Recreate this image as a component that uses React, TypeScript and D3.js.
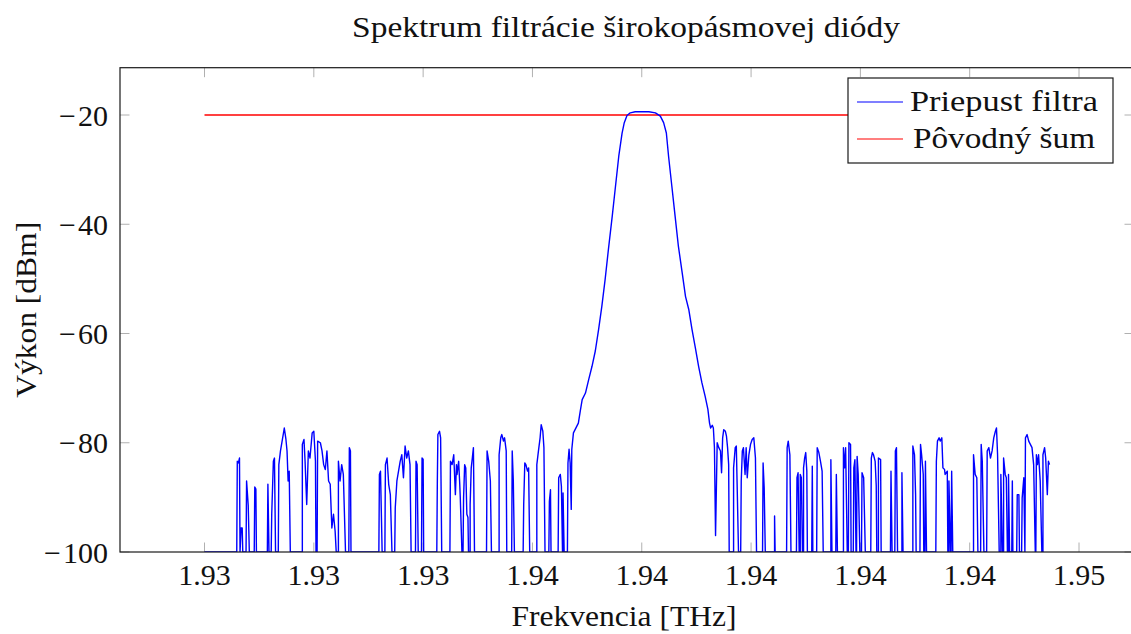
import React from "react";
import * as d3 from "d3";

// ---- data (frequency in THz as shown on the axis, power in dBm) ----
const freqTHz: number[] = [
  1.93000, 1.93059,
  1.93060, 1.93062, 1.93064, 1.93065, 1.93067, 1.93069, 1.93070,
  1.93076, 1.93077, 1.93080, 1.93082,
  1.93091, 1.93092, 1.93094, 1.93095,
  1.93115, 1.93116, 1.93118, 1.93122, 1.93123, 1.93126, 1.93128, 1.93130,
  1.93135, 1.93136, 1.93139, 1.93142, 1.93145, 1.93146, 1.93149, 1.93151, 1.93153, 1.93155, 1.93157,
  1.93179, 1.93179, 1.93182, 1.93184, 1.93187, 1.93190, 1.93193, 1.93197, 1.93200, 1.93203, 1.93204,
  1.93206, 1.93207, 1.93212, 1.93215, 1.93218, 1.93221, 1.93224, 1.93227, 1.93230, 1.93233, 1.93236, 1.93239, 1.93241,
  1.93245, 1.93245, 1.93248, 1.93251, 1.93254, 1.93258,
  1.93264, 1.93265, 1.93267, 1.93268,
  1.93319, 1.93320, 1.93322, 1.93325,
  1.93330, 1.93331, 1.93334, 1.93337, 1.93340, 1.93343,
  1.93348, 1.93349, 1.93352, 1.93355, 1.93358, 1.93361, 1.93364, 1.93367, 1.93370, 1.93373, 1.93376, 1.93378,
  1.93386, 1.93387, 1.93389, 1.93391,
  1.93397, 1.93398, 1.93400, 1.93401,
  1.93425, 1.93426, 1.93427, 1.93430, 1.93432, 1.93434,
  1.93449, 1.93450, 1.93453, 1.93456, 1.93459, 1.93461, 1.93462, 1.93465, 1.93467, 1.93468, 1.93471,
  1.93473, 1.93474, 1.93476, 1.93478, 1.93480, 1.93482, 1.93483,
  1.93486, 1.93486, 1.93488, 1.93490, 1.93492, 1.93494,
  1.93516, 1.93517, 1.93520, 1.93523, 1.93525,
  1.93539, 1.93539, 1.93542, 1.93544, 1.93547, 1.93549, 1.93552, 1.93553,
  1.93562, 1.93563, 1.93565, 1.93567,
  1.93583, 1.93584, 1.93586, 1.93588, 1.93591, 1.93593, 1.93595,
  1.93608, 1.93608, 1.93611, 1.93614, 1.93616, 1.93619, 1.93621, 1.93623,
  1.93630, 1.93631, 1.93633, 1.93634,
  1.93647, 1.93648, 1.93651, 1.93653, 1.93655, 1.93656, 1.93656, 1.93658,
  1.93664, 1.93665, 1.93667, 1.93669, 1.93671, 1.93672, 1.93675, 1.93678, 1.93681, 1.93684,
  1.93688, 1.93691, 1.93697, 1.93703, 1.93709, 1.93715, 1.93721, 1.93727, 1.93733, 1.93739,
  1.93746, 1.93752, 1.93758, 1.93764, 1.93768, 1.93773, 1.93779, 1.93788, 1.93800, 1.93813,
  1.93825, 1.93834, 1.93840, 1.93845, 1.93849, 1.93855, 1.93861, 1.93867, 1.93874, 1.93880,
  1.93886, 1.93892, 1.93898, 1.93904, 1.93910, 1.93916, 1.93921, 1.93924, 1.93926, 1.93929,
  1.93931, 1.93933, 1.93935, 1.93938, 1.93941, 1.93944, 1.93946, 1.93948, 1.93950, 1.93953,
  1.93955, 1.93957, 1.93959, 1.93960,
  1.93968, 1.93968, 1.93971, 1.93973, 1.93975, 1.93977,
  1.93981, 1.93982, 1.93984, 1.93986, 1.93989, 1.93991, 1.93993, 1.93996, 1.93999, 1.94002, 1.94005, 1.94008, 1.94010,
  1.94021, 1.94022, 1.94024, 1.94026,
  1.94043, 1.94043, 1.94044,
  1.94065, 1.94066, 1.94068, 1.94071, 1.94073,
  1.94083, 1.94084, 1.94086, 1.94088, 1.94090, 1.94090, 1.94092, 1.94094, 1.94096, 1.94096, 1.94098, 1.94100, 1.94102, 1.94103,
  1.94111, 1.94112, 1.94113,
  1.94120, 1.94121, 1.94124, 1.94127, 1.94130, 1.94132,
  1.94146, 1.94146, 1.94148,
  1.94155, 1.94156, 1.94158,
  1.94169, 1.94169, 1.94171, 1.94173, 1.94176, 1.94178, 1.94179, 1.94182, 1.94183,
  1.94187, 1.94188, 1.94190, 1.94192, 1.94193, 1.94194, 1.94196, 1.94199,
  1.94202, 1.94203, 1.94206, 1.94209,
  1.94219, 1.94220, 1.94222, 1.94224, 1.94227, 1.94229, 1.94230, 1.94233, 1.94233, 1.94237, 1.94238,
  1.94255, 1.94256, 1.94258, 1.94263, 1.94264, 1.94266, 1.94268,
  1.94276, 1.94276, 1.94278,
  1.94296, 1.94296, 1.94299, 1.94301, 1.94302,
  1.94309, 1.94310, 1.94312, 1.94315, 1.94316, 1.94318, 1.94319, 1.94321,
  1.94338, 1.94339, 1.94341, 1.94344, 1.94346, 1.94349, 1.94351, 1.94354, 1.94355, 1.94359, 1.94360,
  1.94362, 1.94362, 1.94365, 1.94366, 1.94367, 1.94369,
  1.94407, 1.94407, 1.94410, 1.94413, 1.94415, 1.94420, 1.94421, 1.94423, 1.94426,
  1.94431, 1.94432, 1.94435, 1.94438, 1.94441, 1.94444, 1.94447, 1.94449, 1.94451, 1.94454,
  1.94457, 1.94457, 1.94460, 1.94462, 1.94462, 1.94465, 1.94467, 1.94469, 1.94471, 1.94471, 1.94473, 1.94477, 1.94478, 1.94479,
  1.94486, 1.94487, 1.94490, 1.94491, 1.94495, 1.94496, 1.94499, 1.94501,
  1.94501, 1.94502, 1.94505, 1.94508, 1.94511, 1.94514, 1.94517, 1.94520,
  1.94521, 1.94522, 1.94524, 1.94526, 1.94529, 1.94532,
  1.94534, 1.94534, 1.94537, 1.94539, 1.94542, 1.94544, 1.94546,
];

const powerDbm: number[] = [
  -100, -100,
  -83.4, -83.7, -82.8, -100, -95.6, -95.6, -100,
  -100, -87.0, -91.5, -100,
  -100, -88.1, -88.5, -100,
  -100, -87.6, -100, -100, -93.1, -83.4, -82.8, -100,
  -100, -84.0, -81.5, -79.7, -77.9, -77.3, -79.4, -81.5, -87.0, -85.2, -100,
  -100, -80.3, -79.4, -83.4, -91.3, -81.5, -82.8, -78.2, -77.9, -83.4, -100,
  -100, -79.7, -80.0, -81.5, -84.0, -84.9, -81.5, -87.0, -87.6, -95.6, -93.1, -96.2, -100,
  -100, -83.4, -87.0, -84.0, -85.8, -100,
  -100, -80.9, -81.5, -100,
  -100, -85.8, -85.2, -100,
  -100, -84.0, -82.8, -87.6, -89.5, -100,
  -100, -91.9, -87.0, -85.2, -83.4, -82.2, -86.4, -80.6, -82.8, -81.5, -84.0, -100,
  -100, -83.4, -84.0, -100,
  -100, -82.8, -83.0, -100,
  -100, -87.0, -78.5, -77.9, -79.1, -100,
  -100, -83.4, -84.0, -82.2, -89.5, -84.0, -85.8, -83.4, -87.6, -90.1, -100,
  -100, -90.1, -84.0, -84.6, -93.1, -93.7, -100,
  -100, -91.3, -84.6, -82.8, -80.9, -100,
  -100, -81.5, -83.4, -87.0, -100,
  -100, -82.2, -79.1, -78.5, -79.7, -79.1, -81.5, -100,
  -100, -81.5, -87.0, -100,
  -100, -91.3, -83.7, -84.0, -85.2, -84.6, -100,
  -100, -84.0, -81.5, -79.1, -76.7, -77.9, -80.9, -100,
  -100, -90.7, -88.6, -100,
  -100, -86.4, -85.8, -88.0, -100, -100, -89.2, -100,
  -100, -83.7, -81.2, -83.7, -92.2, -81.2, -78.2, -77.6, -77.0, -76.4,
  -73.9, -72.1, -70.9, -68.4, -66.0, -63.2, -59.3, -55.0, -50.1, -44.6,
  -38.5, -33.0, -27.5, -23.3, -21.4, -20.1, -19.6, -19.4, -19.4, -19.4,
  -19.6, -20.2, -21.4, -23.3, -27.5, -33.0, -38.5, -44.0, -48.9, -53.2,
  -55.6, -59.3, -62.6, -66.0, -69.0, -71.5, -73.9, -76.4, -77.3, -76.8,
  -77.3, -80.9, -97.0, -80.0, -80.9, -81.5, -85.5, -79.1, -77.6, -77.9,
  -78.8, -80.9, -84.0, -100,
  -100, -84.6, -80.9, -80.6, -90.1, -100,
  -100, -87.0, -81.5, -80.9, -85.8, -80.9, -86.4, -82.2, -80.3, -79.4, -79.1, -82.8, -100,
  -100, -83.7, -88.3, -100,
  -100, -93.4, -100,
  -100, -80.9, -79.7, -82.2, -100,
  -100, -86.4, -85.5, -100, -100, -85.8, -86.4, -100, -100, -84.6, -82.8, -81.8, -85.2, -100,
  -100, -84.3, -100,
  -100, -80.9, -81.8, -83.4, -85.2, -100,
  -100, -83.1, -100,
  -100, -85.8, -100,
  -100, -80.9, -84.6, -80.9, -100, -100, -80.0, -80.3, -100,
  -100, -84.6, -83.1, -100, -100, -82.5, -85.8, -100,
  -100, -85.5, -86.4, -100,
  -100, -82.8, -81.8, -82.2, -83.4, -87.9, -100, -100, -82.8, -83.1, -100,
  -100, -85.2, -100, -100, -81.5, -80.9, -100,
  -100, -85.5, -100,
  -100, -80.6, -82.2, -89.5, -100,
  -100, -80.3, -82.2, -85.8, -100, -100, -83.4, -100,
  -100, -83.4, -79.7, -79.1, -79.7, -79.1, -84.6, -84.9, -85.8, -85.2, -100,
  -100, -87.0, -100, -100, -85.2, -100,
  -100, -82.2, -85.8, -86.4, -100, -100, -80.3, -83.4, -100,
  -100, -81.5, -80.9, -82.8, -81.5, -79.1, -77.9, -77.3, -82.2, -100,
  -100, -85.8, -100, -100, -82.8, -85.8, -86.4, -100, -100, -85.8, -100, -100, -87.0, -100,
  -100, -89.5, -89.5, -100, -100, -90.1, -86.4, -100,
  -100, -79.1, -78.5, -79.7, -80.3, -80.9, -84.0, -100,
  -100, -82.2, -84.0, -82.2, -87.0, -100,
  -100, -82.2, -80.9, -82.8, -89.5, -83.4, -84.0,
];

const noiseFreqTHz: number[] = [1.93, 1.94546];
const noisePowerDbm: number[] = [-20, -20];

const xTickValues: number[] = [1.930, 1.932, 1.934, 1.936, 1.938, 1.940, 1.942, 1.944, 1.946];
const xTickLabels: string[] = ["1.93", "1.93", "1.93", "1.94", "1.94", "1.94", "1.94", "1.94", "1.95"];
const yTickValues: number[] = [-100, -80, -60, -40, -20];
const yTickLabels: string[] = ["100", "80", "60", "40", "20"]; // shown with a leading minus sign

const seriesNames: string[] = ["Priepust filtra", "Pôvodný šum"];
const seriesColors: string[] = ["#0000ff", "#ff0000"];

const TITLE = "Spektrum filtrácie širokopásmovej diódy";
const X_LABEL = "Frekvencia [THz]";
const Y_LABEL = "Výkon [dBm]";

const W = 1131;
const H = 634;
const PL = 120;
const PR = 1134;
const PT = 67.7;
const PB = 552.0;
const FONT = "'Liberation Serif', 'DejaVu Serif', serif";
const FS = 30;
const TICK = 9.5;

export default function App() {
  const n = Math.min(freqTHz.length, powerDbm.length);
  const blue = d3.range(n).map((i) => ({ f: freqTHz[i], p: powerDbm[i] }));
  const red = noiseFreqTHz.map((f, i) => ({ f, p: noisePowerDbm[i] }));

  const [fMin, fMax] = d3.extent(freqTHz) as [number, number];
  const fr = fMax - fMin;
  const pMax = d3.max([...powerDbm, ...noisePowerDbm]) as number;
  const pMin = -100;
  const x = d3.scaleLinear().domain([fMin - 0.1 * fr, fMax + 0.1 * fr]).range([PL, PR]);
  const y = d3.scaleLinear().domain([pMin, pMax + 0.1 * (pMax - pMin)]).range([PB, PT]);

  const line = d3
    .line<{ f: number; p: number }>()
    .x((d) => x(d.f))
    .y((d) => y(d.p));

  const tickColor = "#b0b0b0";
  const ink = "#111";

  return (
    <svg
      width={W}
      height={H}
      viewBox={`0 0 ${W} ${H}`}
      style={{ position: "absolute", left: 0, top: 0, background: "#fff" }}
      fontFamily={FONT}
    >
      <defs>
        <clipPath id="plotclip">
          <rect x={PL} y={PT} width={PR - PL} height={PB - PT} />
        </clipPath>
      </defs>
      <rect x={0} y={0} width={W} height={H} fill="#fff" />

      {/* ticks (inward, all sides) */}
      {xTickValues.map((v, i) => (
        <g key={"xt" + i}>
          <line x1={x(v)} x2={x(v)} y1={PB} y2={PB - TICK} stroke={tickColor} strokeWidth={1} />
          <line x1={x(v)} x2={x(v)} y1={PT} y2={PT + TICK} stroke={tickColor} strokeWidth={1} />
        </g>
      ))}
      {yTickValues.map((v, i) => (
        <g key={"yt" + i}>
          <line x1={PL} x2={PL + TICK} y1={y(v)} y2={y(v)} stroke={tickColor} strokeWidth={1} />
          <line x1={PR} x2={PR - TICK} y1={y(v)} y2={y(v)} stroke={tickColor} strokeWidth={1} />
        </g>
      ))}

      {/* series */}
      <g clipPath="url(#plotclip)">
        <path d={line(red) || ""} fill="none" stroke={seriesColors[1]} strokeWidth={1.3} />
        <path d={line(blue) || ""} fill="none" stroke={seriesColors[0]} strokeWidth={1.4} strokeLinejoin="round" />
      </g>

      {/* frame */}
      <rect x={PL} y={PT} width={PR - PL} height={PB - PT} fill="none" stroke="#1a1a1a" strokeWidth={1.2} />

      {/* tick labels */}
      {xTickValues.map((v, i) => (
        <text key={"xl" + i} x={x(v)} y={585} textAnchor="middle" fontSize={FS} fill={ink}>
          {xTickLabels[i]}
        </text>
      ))}
      {yTickValues.map((v, i) => (
        <text key={"yl" + i} x={108} y={y(v) + 10.5} textAnchor="end" fontSize={FS} fill={ink}>
          <tspan>{"\u2212"}</tspan>
          <tspan dx={2}>{yTickLabels[i]}</tspan>
        </text>
      ))}

      {/* axis labels */}
      <text
        x={(PL + PR) / 2 - 3}
        y={626}
        textAnchor="middle"
        fontSize={FS}
        fill={ink}
        textLength={225}
        lengthAdjust="spacingAndGlyphs"
      >
        {X_LABEL}
      </text>
      <text
        transform={`translate(36, ${(PT + PB) / 2}) rotate(-90)`}
        textAnchor="middle"
        fontSize={FS}
        fill={ink}
        textLength={176}
        lengthAdjust="spacingAndGlyphs"
      >
        {Y_LABEL}
      </text>

      {/* title */}
      <text
        x={626}
        y={37}
        textAnchor="middle"
        fontSize={FS}
        fill={ink}
        textLength={548}
        lengthAdjust="spacingAndGlyphs"
      >
        {TITLE}
      </text>

      {/* legend */}
      <g>
        <rect x={848} y={78} width={265} height={85} fill="#fff" stroke="#1a1a1a" strokeWidth={1.2} />
        {seriesNames.map((name, i) => (
          <g key={"lg" + i}>
            <line
              x1={857}
              x2={903}
              y1={102 + i * 37}
              y2={102 + i * 37}
              stroke={seriesColors[i]}
              strokeWidth={1.2}
            />
            <text
              x={i === 0 ? 910 : 913}
              y={111 + i * 37}
              fontSize={FS}
              fill={ink}
              textLength={i === 0 ? 188 : 182}
              lengthAdjust="spacingAndGlyphs"
            >
              {name}
            </text>
          </g>
        ))}
      </g>
    </svg>
  );
}
